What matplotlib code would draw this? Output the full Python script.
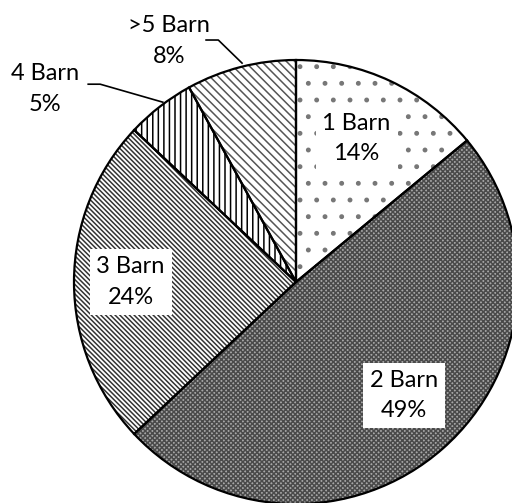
import matplotlib
matplotlib.use('Agg')
import matplotlib.pyplot as plt

# data
labels = ['1 Barn', '2 Barn', '3 Barn', '4 Barn', '>5 Barn']
percents = [14, 49, 24, 5, 8]
hatches = ['.', 'xxxxxxx', '\\\\\\\\\\\\\\', '|||', '\\\\\\\\']
faces = ['white', '#a6a6a6', 'white', 'white', 'white']
hatch_colors = ['#777777', '#4a4a4a', '#333333', 'black', '#555555']

plt.rcParams['font.family'] = ['Lato', 'DejaVu Sans']
plt.rcParams['hatch.linewidth'] = 1.1

fig = plt.figure(figsize=(5.12, 5.03), dpi=100)
ax = fig.add_axes([74 / 512, -1 / 503, 444 / 512, 444 / 503])
ax.set_xlim(-1, 1)
ax.set_ylim(-1, 1)
ax.axis('off')

# hatched fill layer
wedges, _ = ax.pie(percents, startangle=90, counterclock=False, radius=1,
                   colors=faces, wedgeprops=dict(linewidth=0))
for w, h, c in zip(wedges, hatches, hatch_colors):
    w.set_hatch(h)
    w.set_edgecolor(c)
    w.set_linewidth(0)
    w.set_clip_on(False)

# outline layer
outl, _ = ax.pie(percents, startangle=90, counterclock=False, radius=1,
                 wedgeprops=dict(fill=False, edgecolor='black', linewidth=1.6))
for w in outl:
    w.set_clip_on(False)
ax.set_xlim(-1, 1)
ax.set_ylim(-1, 1)

# data labels
pos = [(0.273, 0.645), (0.486, -0.51), (-0.745, 0.0), (-1.13, 0.87), (-0.572, 1.085)]
inside = [True, True, True, False, False]
for lab, p, (x, y), ins in zip(labels, percents, pos, inside):
    kw = dict(ha='center', va='center', fontsize=17, linespacing=1.55)
    if ins:
        kw['bbox'] = dict(facecolor='white', edgecolor='none', pad=5)
    ax.text(x, y, '%s\n%d%%' % (lab, p), clip_on=False, **kw)

# leader lines
ax.plot([-0.405, -0.35, -0.243], [1.09, 1.09, 0.986], color='black', lw=1.2, clip_on=False)
ax.plot([-0.936, -0.882, -0.6], [0.891, 0.891, 0.81], color='black', lw=1.2, clip_on=False)

fig.savefig('out.png', dpi=100)
